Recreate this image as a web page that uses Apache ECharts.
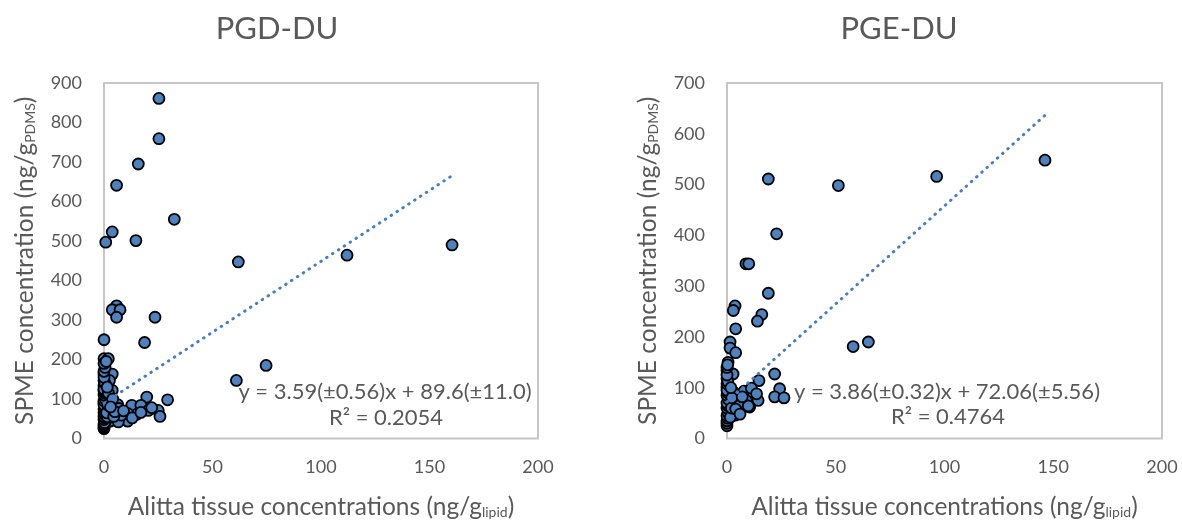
<!DOCTYPE html>
<html>
<head>
<meta charset="utf-8">
<script src="https://cdn.jsdelivr.net/npm/echarts@6/dist/echarts.min.js"></script>
<style>
  html, body { margin: 0; padding: 0; background: #fff; }
  #chart { width: 1182px; height: 525px; }
</style>
</head>
<body>
<div id="chart"></div>
<script>
// Panel titles
const panelTitles = ['PGD-DU', 'PGE-DU'];

// PGD-DU: [tissue concentration (ng/g lipid), SPME concentration (ng/g PDMS)]
const pgdPoints = [
  [25.3, 861], [25.3, 759], [15.8, 695], [5.8, 641], [32.4, 555], [3.8, 523],
  [0.8, 497], [14.7, 501], [61.9, 447], [112, 464], [160.4, 490],
  [5.8, 336], [3.8, 326], [7.4, 326], [5.8, 307], [23.5, 307], [0, 250],
  [18.7, 243], [74.7, 185], [61, 147],
  [0, 202], [2, 202], [0, 163], [3.8, 163], [0, 147], [2.5, 147], [0, 134],
  [3.8, 122], [1, 105], [0, 90], [3.5, 90], [6.3, 86], [19.7, 105], [29.3, 98],
  [12.8, 84], [17, 84], [20.4, 71], [25, 71], [25.8, 56], [15, 61], [10.9, 44],
  [6.9, 76], [2.8, 71], [2.8, 44], [0.8, 44], [6.6, 42], [11, 63], [8, 59],
  [0, 25], [0, 28], [0, 32], [0, 36], [0.3, 40], [0, 48], [0.5, 52], [0, 56],
  [0.2, 62], [0, 66], [0.4, 70], [0, 75], [0.3, 80], [0, 85], [0, 95],
  [0.5, 100], [0, 110], [0.3, 115], [0, 120], [0, 125], [0.4, 140], [0, 155],
  [0, 170], [0.5, 180], [0, 190], [1, 195], [1.5, 55], [1.2, 65], [1.8, 85],
  [2, 115], [1.5, 130], [4.5, 56], [5, 68], [4, 100], [3, 80], [9, 70],
  [13, 52], [17, 66], [22, 78]
];

// PGE-DU: [tissue concentration (ng/g lipid), SPME concentration (ng/g PDMS)]
const pgePoints = [
  [146.2, 548], [96.4, 516], [51.2, 498], [19, 511], [22.8, 403], [8.7, 344],
  [10, 344], [19, 286], [3.7, 261], [2.9, 252], [16, 244], [14, 231], [4, 216],
  [1.4, 190], [1.4, 178], [4, 169], [58, 181], [65, 190],
  [0.5, 150], [0, 134], [2.8, 127], [0, 118], [0, 101], [21.9, 127],
  [14.7, 114], [24.2, 98], [21.9, 82], [26.2, 80], [14.3, 75], [7.8, 93],
  [11.2, 99], [2.8, 92], [8.9, 75], [10.4, 62], [5.1, 72], [1.2, 56],
  [3.5, 52], [5.8, 65], [13.6, 88], [9.8, 64], [3.7, 46],
  [0, 25], [0, 30], [0, 35], [0.3, 40], [0, 45], [0.5, 50], [0, 60],
  [0.3, 65], [0, 70], [0.5, 78], [0, 85], [0.3, 90], [0, 95], [0, 108],
  [0.4, 112], [0, 125], [0, 140], [0.3, 145], [1.5, 42], [2, 60], [2.2, 80],
  [1.8, 100], [4, 58], [6, 48], [7, 82]
];

// Linear fits: slope, intercept
const pgdFit = { slope: 3.59, intercept: 89.6 };
const pgeFit = { slope: 3.86, intercept: 72.06 };

// Fit annotations
const pgdEquation = ['y = 3.59(±0.56)x + 89.6(±11.0)', 'R² = 0.2054'];
const pgeEquation = ['y = 3.86(±0.32)x + 72.06(±5.56)', 'R² = 0.4764'];

// Axis ranges
const xMax = 200, xStep = 50;
const pgdYMax = 900, pgeYMax = 700, yStep = 100;

const FONT = 'Lato, "Open Sans", sans-serif';
const TEXT = '#595959';
const MARK = '#4f81bd';

function trend(points, fit) {
  const xs = points.map(p => p[0]);
  const x0 = Math.min(...xs), x1 = Math.max(...xs);
  return [[x0, fit.slope * x0 + fit.intercept], [x1, fit.slope * x1 + fit.intercept]];
}

const nameRich = {
  a: { color: TEXT, fontFamily: FONT, fontSize: 24.5, lineHeight: 30 },
  s: { color: TEXT, fontFamily: FONT, fontSize: 14, lineHeight: 30, padding: [10, 0, 0, 0] }
};

function xAxis(gridIndex) {
  return {
    gridIndex, type: 'value', min: 0, max: xMax, interval: xStep,
    axisLine: { show: false }, axisTick: { show: false }, splitLine: { show: false },
    axisLabel: { color: TEXT, fontFamily: FONT, fontSize: 18, margin: 20 },
    name: '{a|Alitta tissue concentrations (ng/g}{s|lipid}{a|)}',
    nameLocation: 'middle', nameGap: 54,
    nameTextStyle: { rich: nameRich }
  };
}

function yAxis(gridIndex, max) {
  return {
    gridIndex, type: 'value', min: 0, max, interval: yStep,
    axisLine: { show: false }, axisTick: { show: false }, splitLine: { show: false },
    axisLabel: { color: TEXT, fontFamily: FONT, fontSize: 18, margin: 22 },
    name: '{a|SPME concentration (ng/g}{s|PDMS}{a|)}',
    nameLocation: 'middle', nameRotate: 90, nameGap: 64,
    nameTextStyle: { rich: nameRich }
  };
}

function scatter(idx, data) {
  return {
    type: 'scatter', xAxisIndex: idx, yAxisIndex: idx, data,
    symbol: 'circle', symbolSize: 11, z: 3,
    itemStyle: { color: MARK, borderColor: '#000', borderWidth: 1.8, opacity: 1 },
    emphasis: { disabled: true }
  };
}

function fitLine(idx, points, fit) {
  return {
    type: 'line', xAxisIndex: idx, yAxisIndex: idx, data: trend(points, fit),
    symbol: 'none', silent: true, z: 4,
    lineStyle: { color: '#4a7ebb', width: 3, type: [0.5, 6.5], cap: 'round' }
  };
}

function label(text, x, y, size) {
  return {
    type: 'text', x, y, silent: true,
    style: {
      text, x: 0, y: 0, fill: TEXT, font: size + 'px ' + FONT,
      align: 'center', verticalAlign: 'middle',
      textAlign: 'center', textVerticalAlign: 'middle'
    }
  };
}

const chart = echarts.init(document.getElementById('chart'), null, { renderer: 'canvas' });
chart.setOption({
  animation: false,
  backgroundColor: '#fff',
  grid: [
    { left: 104, top: 83, width: 434, height: 357, show: true, borderColor: '#c6c6c6', borderWidth: 2, backgroundColor: 'transparent' },
    { left: 727, top: 83, width: 435, height: 357, show: true, borderColor: '#c6c6c6', borderWidth: 2, backgroundColor: 'transparent' }
  ],
  xAxis: [xAxis(0), xAxis(1)],
  yAxis: [yAxis(0, pgdYMax), yAxis(1, pgeYMax)],
  series: [
    scatter(0, pgdPoints), fitLine(0, pgdPoints, pgdFit),
    scatter(1, pgePoints), fitLine(1, pgePoints, pgeFit)
  ],
  graphic: [
    label(panelTitles[0], 277, 29, 31),
    label(panelTitles[1], 899, 29, 31),
    label(pgdEquation[0], 385, 392, 22),
    label(pgdEquation[1], 386, 418, 22),
    label(pgeEquation[0], 947, 392, 22),
    label(pgeEquation[1], 948, 417, 22)
  ]
});
</script>
</body>
</html>
